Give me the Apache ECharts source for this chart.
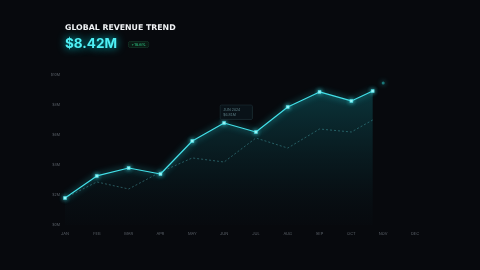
<!DOCTYPE html>
<html>
<head>
<meta charset="utf-8">
<script src="https://cdn.jsdelivr.net/npm/echarts@6/dist/echarts.min.js"></script>
<style>
  html, body { margin: 0; padding: 0; background: #07090d; }
  #chart { width: 480px; height: 270px; }
</style>
</head>
<body>
<div id="chart"></div>
<script>
const months = ['JAN', 'FEB', 'MAR', 'APR', 'MAY', 'JUN', 'JUL', 'AUG', 'SEP', 'OCT', 'NOV', 'DEC']
const yTicks = ['$0M', '$2M', '$4M', '$6M', '$8M', '$10M']
// x positions in month units (last point is mid-November, month to date)
const revenueX = [0, 1, 2, 3, 4, 5, 6, 7, 8, 9, 9.67]
const revenue = [1.8, 3.27, 3.8, 3.4, 5.6, 6.8, 6.2, 7.87, 8.87, 8.27, 8.93]
const lastYear = [1.8, 2.87, 2.4, 3.53, 4.47, 4.2, 5.8, 5.13, 6.4, 6.2, 7.0]
const forecastX = 10
const forecast = 9.47

const chart = echarts.init(document.getElementById('chart'))

const cyan = '#43e0e8'

chart.setOption({
    backgroundColor: '#07090d',
    animation: false,
    title: [
        {
            text: 'GLOBAL REVENUE TREND',
            left: 65,
            top: 24,
            padding: 0,
            textStyle: { color: '#f2f4f6', fontSize: 7.8, fontWeight: 'bold', fontFamily: 'DejaVu Sans' }
        },
        {
            text: '$8.42M',
            left: 65,
            top: 37,
            padding: 0,
            textStyle: {
                color: '#4ff0f5', fontSize: 13.5, fontWeight: 'bold', fontFamily: 'Inter',
                textShadowColor: 'rgba(0, 230, 240, 0.85)', textShadowBlur: 9
            }
        }
    ],
    graphic: [
        {
            type: 'text',
            left: 128,
            top: 41,
            style: {
                text: '+18.6%',
                fill: '#2fcf8a',
                fontSize: 4,
                fontFamily: 'Inter',
                backgroundColor: '#0b1a14',
                borderColor: '#17402e',
                borderWidth: 0.5,
                borderRadius: 2,
                padding: [1, 3]
            }
        }
    ],
    grid: { left: 65, right: 65, top: 75, bottom: 45 },
    xAxis: [
        {
            type: 'category',
            data: months,
            boundaryGap: false,
            axisLine: { show: false },
            axisTick: { show: false },
            axisLabel: { color: '#5a6068', fontSize: 4, margin: 7, fontFamily: 'Inter' },
            splitLine: { show: false }
        },
        {
            type: 'value',
            min: 0,
            max: 11,
            show: false
        }
    ],
    yAxis: {
        type: 'value',
        min: 0,
        max: 10,
        interval: 2,
        axisLine: { show: false },
        axisTick: { show: false },
        splitLine: { show: false },
        axisLabel: {
            color: '#5a6068', fontSize: 3.6, margin: 5, fontFamily: 'Inter',
            formatter: (v) => yTicks[v / 2]
        }
    },
    series: [
        {
            name: 'Last year',
            type: 'line',
            xAxisIndex: 1,
            data: revenueX.map((x, i) => [x, lastYear[i]]),
            symbol: 'none',
            lineStyle: { color: '#336a6e', width: 0.8, type: [2, 2] },
            z: 2
        },
        {
            name: 'Revenue',
            type: 'line',
            xAxisIndex: 1,
            data: revenueX.map((x, i) => {
                const item = { value: [x, revenue[i]] }
                if (i === 5) {
                    item.label = {
                        show: true,
                        position: [-2, -16],
                        formatter: 'JUN 2024\n$6.81M',
                        color: '#5d7f86',
                        fontSize: 3.8,
                        lineHeight: 5,
                        backgroundColor: 'rgba(10, 20, 26, 0.9)',
                        borderColor: '#22363c',
                        borderWidth: 0.5,
                        borderRadius: 1,
                        padding: [2, 12, 2, 3]
                    }
                }
                return item
            }),
            symbol: 'rect',
            symbolSize: 3,
            itemStyle: { color: '#a6f6f8', borderColor: cyan, borderWidth: 0.5, shadowBlur: 4, shadowColor: cyan },
            lineStyle: { color: cyan, width: 1.2, shadowBlur: 6, shadowColor: 'rgba(40, 220, 230, 0.9)' },
            areaStyle: {
                color: new echarts.graphic.LinearGradient(0, 0, 0, 1, [
                    { offset: 0, color: 'rgba(20, 160, 170, 0.42)' },
                    { offset: 0.6, color: 'rgba(15, 100, 110, 0.2)' },
                    { offset: 1, color: 'rgba(10, 40, 50, 0.05)' }
                ])
            },
            z: 3
        },
        {
            name: 'Forecast',
            type: 'scatter',
            xAxisIndex: 1,
            data: [[forecastX, forecast]],
            symbolSize: 3,
            itemStyle: { color: '#1e8d90', shadowBlur: 5, shadowColor: '#2bc8cf' },
            z: 4
        }
    ]
})

window.addEventListener('resize', () => chart.resize())
</script>
</body>
</html>
